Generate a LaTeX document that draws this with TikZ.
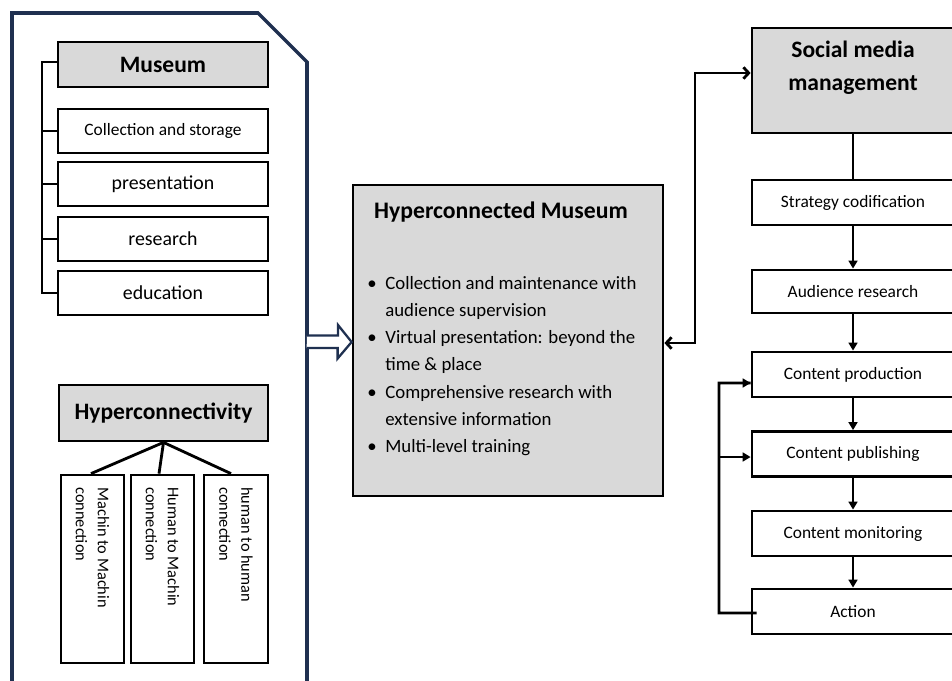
\documentclass[tikz,border=0pt]{standalone}
\usepackage{fontspec}
\setmainfont{Carlito}
\usetikzlibrary{arrows.meta}

\definecolor{framenavy}{HTML}{1F3050}
\definecolor{boxgray}{HTML}{D9D9D9}

\tikzset{
  box/.style={draw, line width=1.6pt, fill=white, inner sep=0pt,
    minimum width=4.2cm, minimum height=0.9cm, font=\fontsize{9.9}{12}\selectfont},
  graybox/.style={box, fill=boxgray, font=\bfseries\fontsize{13.4}{18.7}\selectfont},
  bigbox/.style={box, font=\fontsize{11.3}{13}\selectfont},
  rightbox/.style={box, minimum width=4.04cm},
  vbox/.style={draw, line width=1.6pt, inner sep=0pt, minimum width=1.26cm, minimum height=3.76cm},
  vtext/.style={rotate=-90, anchor=west, align=left, inner sep=0pt, font=\fontsize{9.3}{12.5}\selectfont},
  link/.style={line width=1.6pt},
  flow/.style={link, -{Triangle[length=4.5pt,width=5pt]}},
  both/.style={link, {Straight Barb[length=3pt,width=6.5pt]}-{Straight Barb[length=3pt,width=6.5pt]}},
}
\newcommand{\bul}[1]{\makebox[0.36cm][l]{\textbullet}#1}

\begin{document}
\begin{tikzpicture}[x=0.02cm, y=-0.02cm]
\useasboundingbox (0,0) rectangle (952,680);
\clip (0,0) rectangle (952,680);

% left frame
\draw[framenavy, line width=2pt] (12,700) -- (12,13) -- (258,13) -- (307,62) -- (307,700);
\coordinate (frameR) at (307,342);

% museum
\node[graybox] (mus) at (163,64.5) {Museum};
\node[box, minimum height=0.88cm] (coll) at (163,131) {Collection and storage};
\node[bigbox, minimum height=0.88cm] (pres) at (163,184) {presentation};
\node[bigbox, minimum height=0.88cm] (res) at (163,239) {research};
\node[bigbox, minimum height=0.88cm] (edu) at (163,293) {education};
\coordinate (brk) at (42,62);
\draw[link] (mus.west |- brk) -- (brk) |- (edu.west);
\foreach \n in {coll,pres,res}
  \draw[link] (\n.west) -- (\n.west -| brk);

% hyperconnectivity
\node[graybox, minimum width=4.18cm, minimum height=1.12cm] (hyp) at (163.5,413) {Hyperconnectivity};
\node[vbox] (mm) at (92.5,569) {};
\node[vbox] (hm) at (162.5,569) {};
\node[vbox, minimum width=1.28cm] (hh) at (236,569) {};
\node[vtext] (mmt) at (92.5,487) {Machin to Machin\\connection};
\node[vtext] (hmt) at (162.5,487) {Human to Machin\\connection};
\node[vtext] (hht) at (236,487) {human to human\\connection};
\draw[link] (hyp.south) -- ([xshift=-0.03cm]mm.north);
\draw[link] (hyp.south) -- ([xshift=-0.07cm]hm.north);
\draw[link] (hyp.south) -- ([xshift=-0.1cm]hh.north);

% hyperconnected museum
\node[box, fill=boxgray, minimum width=6.2cm, minimum height=6.22cm] (hcm) at (508,340.5) {};
\node[font=\bfseries\fontsize{13.5}{16}\selectfont] (hcmt) at (501,212) {Hyperconnected Museum};
\node[anchor=west, align=left, inner sep=0pt, font=\fontsize{10.7}{15.5}\selectfont] (hcml) at (367,366)
  {\bul{Collection and maintenance with}\\
   \hspace*{0.36cm}audience supervision\\
   \bul{Virtual presentation: beyond the}\\
   \hspace*{0.36cm}time \& place\\
   \bul{Comprehensive research with}\\
   \hspace*{0.36cm}extensive information\\
   \bul{Multi-level training}};
\draw[framenavy, line width=1.3pt, fill=white]
  (frameR) ++(0,-6.5) -- ++(31,0) -- ++(0,-10.5) -- (hcm.west |- frameR)
  -- ++(-14,16.5) -- ++(0,-10.5) -- ++(-31,0);

% social media management
\node[graybox, minimum width=4.04cm, minimum height=2.1cm] (smm) at (853,80.5) {};
\node[font=\bfseries\fontsize{13.4}{18.7}\selectfont, align=center] (smmt) at (853,68) {Social media\\management};
\node[rightbox] (strat) at (853,202.5) {Strategy codification};
\node[rightbox, minimum height=0.86cm] (aud) at (853,291.5) {Audience research};
\node[rightbox] (prod) at (853,374.5) {Content production};
\node[rightbox] (publ) at (853,454) {Content publishing};
\node[rightbox] (mon) at (853,533.5) {Content monitoring};
\node[rightbox] (act) at (853,611.5) {Action};

\draw[link] (smm.south) -- (strat.north);
\draw[flow] (strat) -- (aud);
\draw[flow] (aud) -- (prod);
\draw[flow] (prod) -- (publ);
\draw[flow] (publ) -- (mon);
\draw[flow] (mon) -- (act);

% feedback loop
\coordinate (fb) at (719,613);
\draw[link] ([xshift=0.12cm,yshift=-0.03cm]act.west) -- (fb |- 0,613) |- (prod.west |- 0,383);
\draw[flow] (fb |- 0,383) -- (prod.west |- 0,383);
\draw[flow] (fb |- 0,457) -- (publ.west |- 0,457);

% exchange with social media
\coordinate (ex) at (695,343);
\draw[both] (hcm.east |- ex) -- (ex) |- (smm.west |- 0,73);
\end{tikzpicture}
\end{document}
